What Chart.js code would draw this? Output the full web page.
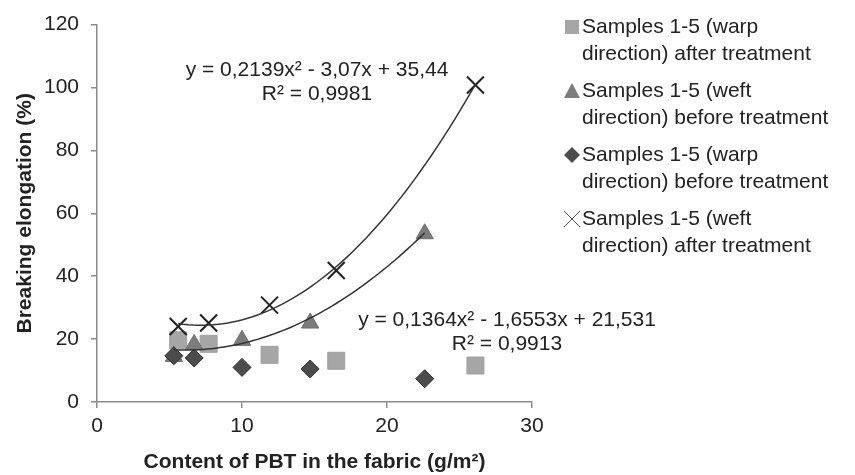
<!doctype html>
<html lang="en">
<head>
<meta charset="utf-8">
<title>Breaking elongation vs PBT content</title>
<script src="https://cdn.jsdelivr.net/npm/chart.js@4.4.1/dist/chart.umd.min.js"></script>
<style>
  * { margin: 0; padding: 0; box-sizing: border-box; }
  html, body { background: #fff; }
  .wrapper { width: 855px; height: 475px; }
  #canvas { display: block; }
</style>
</head>
<body>
<div class="wrapper">
  <canvas id="canvas" width="855" height="475"></canvas>
</div>
<script>
// samples 1-5, x = content of PBT (g/m2), y = breaking elongation (%)
var xBefore = [5.3, 6.7, 10.0, 14.7, 22.6];
var xAfter = [5.6, 7.7, 11.9, 16.5, 26.1];
var warpAfter = [19.6, 18.5, 15.0, 13.1, 11.6];
var weftBefore = [14.5, 18.3, 19.6, 25.1, 53.5];
var warpBefore = [14.7, 14.0, 11.0, 10.5, 7.4];
var weftAfter = [24.0, 25.1, 30.8, 41.8, 100.8];

// trendline coefficients as printed on the chart (a x^2 + b x + c)
var fitWeftAfter = [0.2139, -3.07, 35.44];
var fitWeftBefore = [0.1364, -1.6553, 21.531];
var fitLabels = [
  ['y = 0,2139x\u00b2 - 3,07x + 35,44', 'R\u00b2 = 0,9981'],
  ['y = 0,1364x\u00b2 - 1,6553x + 21,531', 'R\u00b2 = 0,9913']
];

var seriesNames = [
  ['Samples 1-5 (warp', 'direction) after treatment'],
  ['Samples 1-5 (weft', 'direction) before treatment'],
  ['Samples 1-5 (warp', 'direction) before treatment'],
  ['Samples 1-5 (weft', 'direction) after treatment']
];

var xTicks = [0, 10, 20, 30];
var yTicks = [0, 20, 40, 60, 80, 100, 120];

function pts(xs, ys) {
  return xs.map(function (x, i) { return { x: x, y: ys[i] }; });
}

function curve(c, x0, x1) {
  var out = [];
  var n = 60;
  for (var i = 0; i <= n; i++) {
    var x = x0 + (x1 - x0) * i / n;
    out.push({ x: x, y: c[0] * x * x + c[1] * x + c[2] });
  }
  return out;
}

var FONT = "'Liberation Sans', Arial, sans-serif";

var styles = [
  { shape: 'rect', r: 12, fill: '#a6a6a6', stroke: '#a0a0a0' },
  { shape: 'triangle', r: 10, fill: '#7c7c7c', stroke: '#6e6e6e' },
  { shape: 'rectRot', r: 9, fill: '#4c4c4c', stroke: '#2e2e2e' },
  { shape: 'crossRot', r: 12, fill: '#222', stroke: '#222' }
];

var datasets = [
  { data: pts(xAfter, warpAfter), order: 5 },
  { data: pts(xBefore, weftBefore), order: 4 },
  { data: pts(xBefore, warpBefore), order: 3 },
  { data: pts(xAfter, weftAfter), order: 2 }
].map(function (d, i) {
  var s = styles[i];
  d.label = seriesNames[i].join(' ');
  d.pointStyle = s.shape;
  d.pointRadius = s.r;
  d.pointHoverRadius = s.r;
  d.backgroundColor = s.fill;
  d.borderColor = s.stroke;
  d.pointBorderWidth = i == 3 ? 2 : 1;
  d.showLine = false;
  return d;
});

datasets.push({
  label: 'fit1',
  data: curve(fitWeftAfter, xAfter[0], xAfter[4]),
  showLine: true, pointRadius: 0, borderColor: '#333', borderWidth: 1.5, order: 1
});
datasets.push({
  label: 'fit2',
  data: curve(fitWeftBefore, xBefore[0], xBefore[4]),
  showLine: true, pointRadius: 0, borderColor: '#333', borderWidth: 1.5, order: 1
});

var overlay = {
  id: 'overlay',
  afterDraw: function (chart) {
    var ctx = chart.ctx;
    ctx.save();
    // trendline equations
    ctx.fillStyle = '#222';
    ctx.font = '21px ' + FONT;
    ctx.textAlign = 'center';
    ctx.textBaseline = 'middle';
    var eqPos = [[317, 70], [507, 320]];
    fitLabels.forEach(function (lines, k) {
      ctx.fillText(lines[0], eqPos[k][0], eqPos[k][1]);
      ctx.fillText(lines[1], eqPos[k][0], eqPos[k][1] + 24);
    });
    // legend
    ctx.textAlign = 'left';
    seriesNames.forEach(function (lines, i) {
      var y = 27 + i * 64;
      var s = styles[i];
      var mx = 572;
      ctx.fillStyle = s.fill;
      ctx.strokeStyle = s.stroke;
      ctx.lineWidth = 1;
      ctx.beginPath();
      if (s.shape == 'rect') {
        ctx.rect(mx - 7, y - 7, 14, 14);
        ctx.fill();
      } else if (s.shape == 'triangle') {
        ctx.moveTo(mx, y - 8); ctx.lineTo(mx + 8, y + 7); ctx.lineTo(mx - 8, y + 7);
        ctx.closePath(); ctx.fill();
      } else if (s.shape == 'rectRot') {
        ctx.moveTo(mx, y - 8); ctx.lineTo(mx + 8, y); ctx.lineTo(mx, y + 8); ctx.lineTo(mx - 8, y);
        ctx.closePath(); ctx.fill();
      } else {
        ctx.strokeStyle = '#555';
        ctx.moveTo(mx - 8, y - 8); ctx.lineTo(mx + 8, y + 8);
        ctx.moveTo(mx + 8, y - 8); ctx.lineTo(mx - 8, y + 8);
        ctx.stroke();
      }
      ctx.fillStyle = '#222';
      ctx.fillText(lines[0], 582, y);
      ctx.fillText(lines[1], 582, y + 27);
    });
    ctx.restore();
  }
};

var axisColor = '#8a8a8a';

new Chart(document.getElementById('canvas').getContext('2d'), {
  type: 'scatter',
  data: { datasets: datasets },
  plugins: [overlay],
  options: {
    responsive: false,
    animation: false,
    layout: { padding: { top: 18, right: 323, left: 0, bottom: 0 } },
    plugins: { legend: { display: false }, tooltip: { enabled: false } },
    scales: {
      x: {
        type: 'linear', min: 0, max: 30,
        afterFit: function (s) { s.height = 73; },
        afterBuildTicks: function (s) { s.ticks = xTicks.map(function (v) { return { value: v }; }); },
        grid: { drawOnChartArea: false, color: axisColor, tickLength: 6, lineWidth: 1.5 },
        border: { color: axisColor, width: 1.5 },
        ticks: { color: '#222', font: { family: FONT, size: 21 }, padding: 6, maxRotation: 0 },
        title: { display: true, text: 'Content of PBT in the fabric (g/m\u00b2)', color: '#222',
          font: { family: FONT, size: 21, weight: 'bold' }, padding: { top: 0, bottom: 0 } }
      },
      y: {
        type: 'linear', min: 0, max: 120,
        afterFit: function (s) { s.width = 97; },
        afterBuildTicks: function (s) { s.ticks = yTicks.map(function (v) { return { value: v }; }); },
        grid: { drawOnChartArea: false, color: axisColor, tickLength: 6, lineWidth: 1.5 },
        border: { color: axisColor, width: 1.5 },
        ticks: { color: '#222', font: { family: FONT, size: 21 }, padding: 12 },
        title: { display: true, text: 'Breaking elongation (%)', color: '#222',
          font: { family: FONT, size: 21, weight: 'bold' }, padding: { top: 13, bottom: 0 } }
      }
    }
  }
});
</script>
</body>
</html>
